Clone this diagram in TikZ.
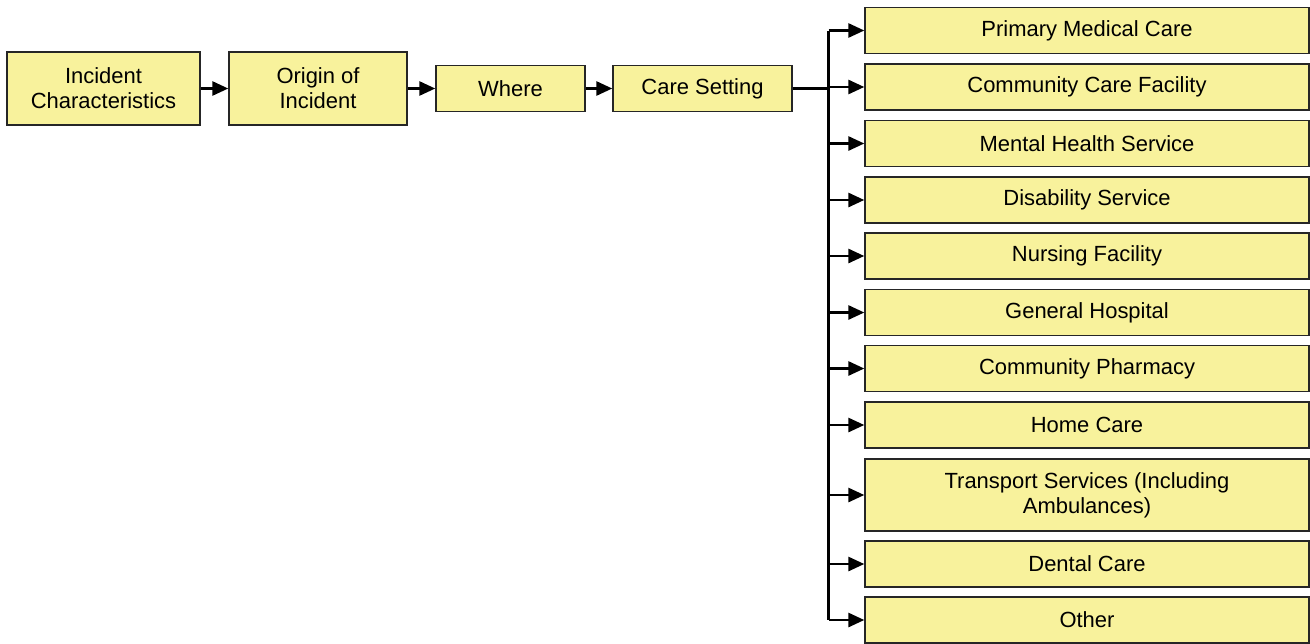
\documentclass[tikz,border=0pt]{standalone}
\usepackage{fontspec}
\setmainfont{Liberation Sans}
\usepackage{xcolor}
\usetikzlibrary{arrows.meta,positioning}
\definecolor{boxyellow}{RGB}{248,242,156}
\begin{document}
\begin{tikzpicture}[x=0.02cm, y=-0.02cm,
      box/.style={rectangle, draw=black!85, line width=0.9pt, fill=boxyellow,
        align=center, inner sep=0pt, minimum height=0.92cm,
        font=\fontsize{12.5}{14.2}\selectfont},
      tall/.style={box, minimum height=1.46cm},
      opt/.style={box, minimum width=8.88cm},
      link/.style={line width=1.3pt, -{Triangle[length=9pt, width=8pt]}},
      trunk/.style={line width=2pt}]
    \useasboundingbox (0,0) rectangle (1310,643);
    % chain along the top
    \node[tall, minimum width=3.86cm] (inc)   at (103.5,88.5) {Incident\\Characteristics};
    \node[tall, minimum width=3.56cm] (orig)  at (318,88.5)   {Origin of\\Incident};
    \node[box,  minimum width=2.98cm] (where) at (510.5,88.5) {Where};
    \node[box,  minimum width=3.58cm] (care)  at (702.5,88.5) {Care Setting};
    \draw[link] (inc)--(orig);
    \draw[link] (orig)--(where);
    \draw[link] (where)--(care);
    % care settings
    \node[opt] (s1)  at (1087,30.5)  {Primary Medical Care};
    \node[opt] (s2)  at (1087,87)    {Community Care Facility};
    \node[opt] (s3)  at (1087,143.5) {Mental Health Service};
    \node[opt] (s4)  at (1087,200)   {Disability Service};
    \node[opt] (s5)  at (1087,256)   {Nursing Facility};
    \node[opt] (s6)  at (1087,312.5) {General Hospital};
    \node[opt] (s7)  at (1087,368.5) {Community Pharmacy};
    \node[opt] (s8)  at (1087,425)   {Home Care};
    \node[opt, minimum height=1.44cm] (s9) at (1087,495) {Transport Services (Including\\Ambulances)};
    \node[opt] (s10) at (1087,564)   {Dental Care};
    \node[opt] (s11) at (1087,620)   {Other};
    \coordinate (bus) at (828.5,88.5);
    \draw[trunk] (care.east)--(bus);
    \draw[line width=1.3pt] (bus |- s1.west)--(bus);
    \draw[trunk] (bus)--(bus |- s11.west);
    \draw[link] (bus |- s1.west)--(s1.west);
    \draw[link] (bus |- s2.west)--(s2.west);
    \draw[link] (bus |- s3.west)--(s3.west);
    \draw[link] (bus |- s4.west)--(s4.west);
    \draw[link] (bus |- s5.west)--(s5.west);
    \draw[link] (bus |- s6.west)--(s6.west);
    \draw[link] (bus |- s7.west)--(s7.west);
    \draw[link] (bus |- s8.west)--(s8.west);
    \draw[link] (bus |- s9.west)--(s9.west);
    \draw[link] (bus |- s10.west)--(s10.west);
    \draw[link] (bus |- s11.west)--(s11.west);
  \end{tikzpicture}
\end{document}
